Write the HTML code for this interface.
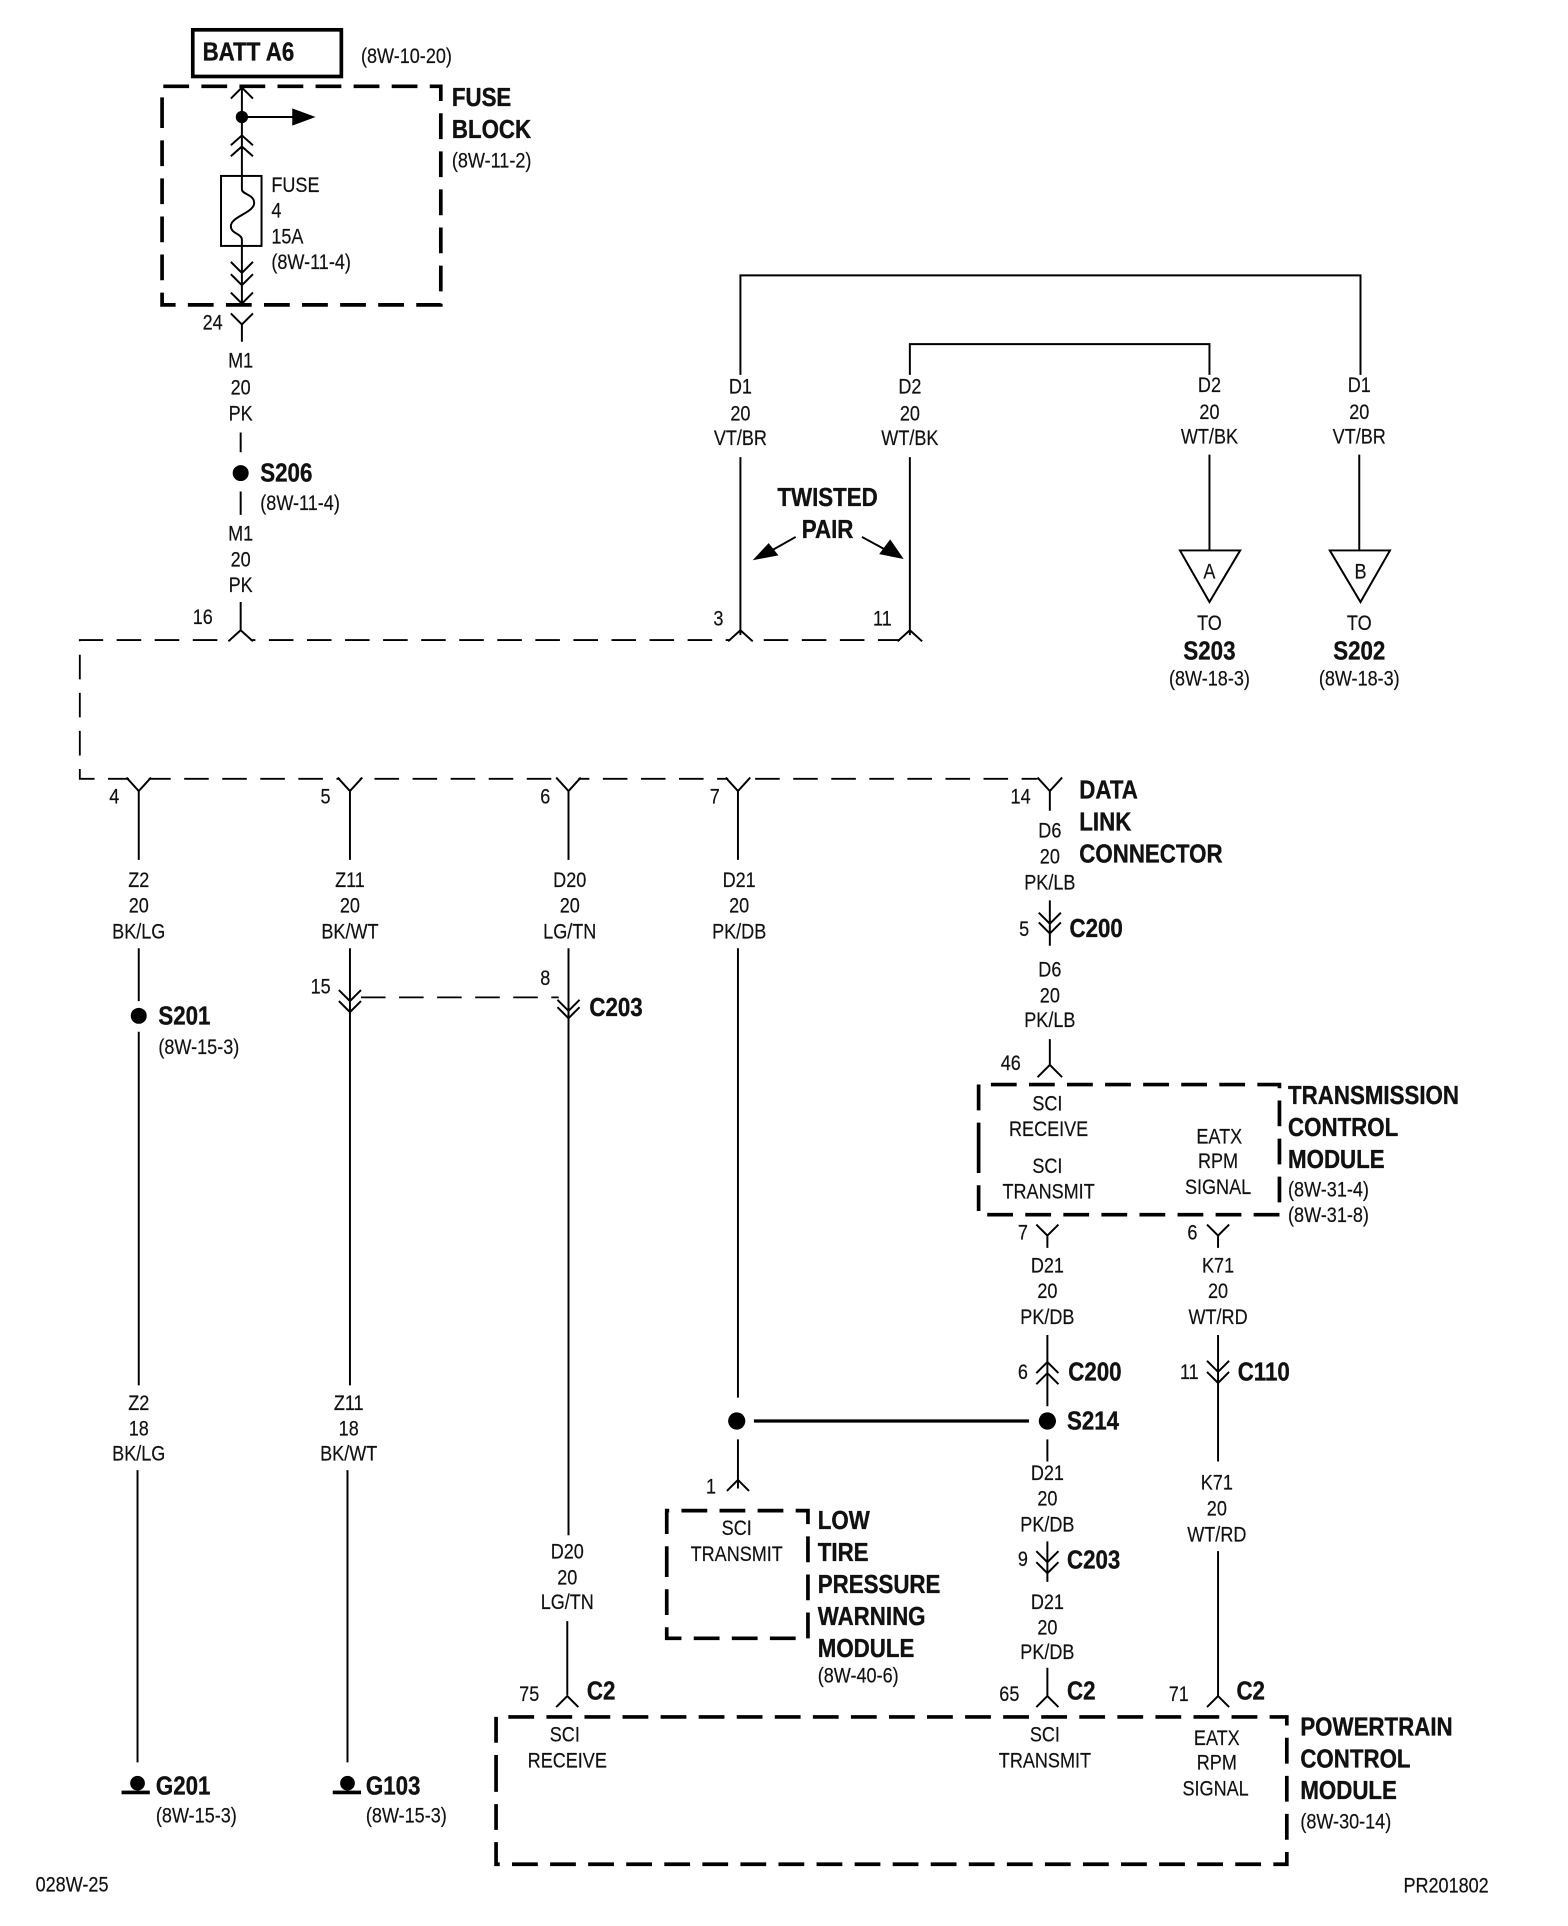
<!DOCTYPE html>
<html><head><meta charset="utf-8"><style>
html,body{margin:0;padding:0;background:#fff;width:1568px;height:1926px;overflow:hidden}
svg{display:block}
text{font-family:"Liberation Sans",sans-serif;fill:#111;font-size:17px;stroke:#111;stroke-width:.15px;transform-box:fill-box;transform-origin:0% 50%;transform:scaleX(.865)}
.c{text-anchor:middle;transform-origin:50% 50%}
.b{font-weight:bold;font-size:21px;stroke-width:.3px}
.w{fill:none;stroke:#000;stroke-width:1.6}
.h{fill:none;stroke:#000;stroke-width:3;stroke-dasharray:21 10}
.d{fill:none;stroke:#000;stroke-width:1.5;stroke-dasharray:20 11}
</style></head><body>
<svg width="1568" height="1926" viewBox="0 0 1277 1568" xmlns="http://www.w3.org/2000/svg">
<!-- header -->
<rect x="157" y="24" width="121" height="38" fill="none" stroke="#000" stroke-width="3"/>
<text class="b" x="165" y="49">BATT A6</text>
<text x="294" y="51">(8W-10-20)</text>
<path class="h" d="M132 100V70H359V248H132V100"/>
<text class="b" x="368" y="86">FUSE</text><text class="b" x="368" y="112">BLOCK</text><text x="368" y="136">(8W-11-2)</text>
<path class="w" d="M197 72V143M188 80L197 71L206 80M188 118L197 110L206 118M188 127L197 119L206 127M197 95H240"/>
<circle cx="197" cy="95" r="5"/><path d="M238 88L257 95L238 102Z"/>
<rect class="w" x="180" y="143" width="33" height="57"/>
<path class="w" d="M197 143V154C197 158 207 158 207 165C207 173 188 176 188 184C188 190 197 190 197 195V247M188 213L197 222L206 213M188 223L197 232L206 223M188 238L197 247L206 238"/>
<text x="221" y="156">FUSE</text><text x="221" y="177">4</text><text x="221" y="198">15A</text><text x="221" y="219">(8W-11-4)</text>
<text x="165" y="268">24</text>
<path class="w" d="M188 255L197 264L206 255M197 264V278"/>
<text class="c" x="196" y="299">M1</text><text class="c" x="196" y="321">20</text><text class="c" x="196" y="342">PK</text>
<circle cx="196" cy="385" r="6.5"/>
<text class="b" x="212" y="392">S206</text><text x="212" y="415">(8W-11-4)</text>
<text class="c" x="196" y="440">M1</text><text class="c" x="196" y="461">20</text><text class="c" x="196" y="482">PK</text>
<text x="157" y="508">16</text>
<!-- dashed harness -->
<path class="d" d="M735 521H65V634H845"/>
<path d="M188 521H204M595 521H611M733 521H751M105 634H121M277 634H293M455 634H471M593 634H609" fill="none" stroke="#fff" stroke-width="3.5"/>
<path class="w" d="M196 352V368M196 400V419M196 490V514M186 522L196 513L206 522"/>
<!-- twisted pair -->
<path class="w" d="M603 305V224H1108V305M741 305V280H985V305M603 372V517M741 372V517M593 522L603 513L613 522M731 522L741 513L751 522M985 370V448M1107 370V448"/>
<text class="c" x="603" y="320">D1</text><text class="c" x="603" y="342">20</text><text class="c" x="603" y="362">VT/BR</text>
<text class="c" x="741" y="320">D2</text><text class="c" x="741" y="342">20</text><text class="c" x="741" y="362">WT/BK</text>
<text class="c" x="985" y="319">D2</text><text class="c" x="985" y="341">20</text><text class="c" x="985" y="361">WT/BK</text>
<text class="c" x="1107" y="319">D1</text><text class="c" x="1107" y="341">20</text><text class="c" x="1107" y="361">VT/BR</text>
<text class="b c" x="674" y="412">TWISTED</text><text class="b c" x="674" y="438">PAIR</text>
<path class="w" d="M648 437L625 450M702 437L724 449" stroke-width="2"/>
<path d="M613 456L626 442L634 452ZM736 455L716 451L725 439Z"/>
<text x="581" y="509">3</text><text x="711" y="509">11</text>
<path class="w" d="M961 448H1010L985 490ZM1083 448H1132L1108 490Z" stroke-width="2"/>
<text class="c" x="985" y="471">A</text><text class="c" x="1108" y="471">B</text>
<text class="c" x="985" y="513">TO</text><text class="b c" x="985" y="537">S203</text><text class="c" x="985" y="558">(8W-18-3)</text>
<text class="c" x="1107" y="513">TO</text><text class="b c" x="1107" y="537">S202</text><text class="c" x="1107" y="558">(8W-18-3)</text>
<!-- branches -->
<path class="w" d="M103 633L113 644L123 633M275 633L285 644L295 633M453 633L463 644L473 633M591 633L601 644L611 633M845 633L855 644L865 633"/>
<path class="w" d="M113 643V700M113 772V815M113 840V1128M112 1197V1435M285 643V700M285 772V1128M283 1197V1435M463 643V700M463 772V1250M462 1320V1380M601 643V700M601 772V1138M855 643V660"/>
<text x="89" y="654">4</text><text x="261" y="654">5</text><text x="440" y="654">6</text><text x="578" y="654">7</text><text x="823" y="654">14</text>
<text class="c" x="113" y="722">Z2</text><text class="c" x="113" y="743">20</text><text class="c" x="113" y="764">BK/LG</text>
<text class="c" x="285" y="722">Z11</text><text class="c" x="285" y="743">20</text><text class="c" x="285" y="764">BK/WT</text>
<text class="c" x="464" y="722">D20</text><text class="c" x="464" y="743">20</text><text class="c" x="464" y="764">LG/TN</text>
<text class="c" x="602" y="722">D21</text><text class="c" x="602" y="743">20</text><text class="c" x="602" y="764">PK/DB</text>
<text class="c" x="113" y="1148">Z2</text><text class="c" x="113" y="1169">18</text><text class="c" x="113" y="1189">BK/LG</text>
<text class="c" x="284" y="1148">Z11</text><text class="c" x="284" y="1169">18</text><text class="c" x="284" y="1189">BK/WT</text>
<text class="c" x="462" y="1269">D20</text><text class="c" x="462" y="1290">20</text><text class="c" x="462" y="1310">LG/TN</text>
<circle cx="113" cy="827" r="6.5"/>
<text class="b" x="129" y="834">S201</text><text x="129" y="858">(8W-15-3)</text>
<circle cx="112" cy="1452" r="6"/><rect x="99" y="1458" width="23" height="3"/>
<text class="b" x="127" y="1461">G201</text><text x="127" y="1484">(8W-15-3)</text>
<circle cx="283" cy="1452" r="6"/><rect x="271" y="1458" width="23" height="3"/>
<text class="b" x="298" y="1461">G103</text><text x="298" y="1484">(8W-15-3)</text>
<text x="253" y="809">15</text><text x="440" y="802">8</text>
<path class="w" d="M276 806L285 815L294 806M276 815L285 824L294 815M454 814L463 823L472 814M454 820L463 829L472 820"/>
<path class="d" d="M294 812H455" stroke-dasharray="16 9"/>
<text class="b" x="480" y="827">C203</text>
<text class="c" x="431" y="1385">75</text><text class="b" x="478" y="1384">C2</text>
<path class="w" d="M453 1390L462 1381L471 1390"/>
<!-- S214 cross -->
<circle cx="600" cy="1157" r="7"/><circle cx="853" cy="1157" r="7"/>
<path d="M614 1157H838" stroke="#000" stroke-width="2.6"/>
<path class="w" d="M601 1172V1212M592 1214L601 1205L610 1214"/>
<text x="575" y="1216">1</text>
<path class="h" d="M543 1280V1230H658V1334H543V1280"/>
<text class="c" x="600" y="1250">SCI</text><text class="c" x="600" y="1271">TRANSMIT</text>
<text class="b" x="666" y="1245">LOW</text><text class="b" x="666" y="1271">TIRE</text><text class="b" x="666" y="1297">PRESSURE</text><text class="b" x="666" y="1323">WARNING</text><text class="b" x="666" y="1349">MODULE</text>
<text x="666" y="1370">(8W-40-6)</text>
<!-- data link -->
<text class="b" x="879" y="650">DATA</text><text class="b" x="879" y="676">LINK</text><text class="b" x="879" y="702">CONNECTOR</text>
<text class="c" x="855" y="682">D6</text><text class="c" x="855" y="703">20</text><text class="c" x="855" y="724">PK/LB</text>
<path class="w" d="M855 733V770M846 743L855 752L864 743M846 751L855 760L864 751"/>
<text x="830" y="762">5</text><text class="b" x="871" y="763">C200</text>
<text class="c" x="855" y="795">D6</text><text class="c" x="855" y="816">20</text><text class="c" x="855" y="836">PK/LB</text>
<path class="w" d="M855 846V868M845 877L855 867L865 877"/>
<text x="815" y="871">46</text>
<path class="h" d="M797 935V883H1042V989H797V935"/>
<text class="c" x="853" y="904">SCI</text><text class="c" x="854" y="925">RECEIVE</text><text class="c" x="853" y="955">SCI</text><text class="c" x="854" y="976">TRANSMIT</text>
<text class="c" x="993" y="931">EATX</text><text class="c" x="992" y="951">RPM</text><text class="c" x="992" y="972">SIGNAL</text>
<text class="b" x="1049" y="899">TRANSMISSION</text><text class="b" x="1049" y="925">CONTROL</text><text class="b" x="1049" y="951">MODULE</text>
<text x="1049" y="974">(8W-31-4)</text><text x="1049" y="995">(8W-31-8)</text>
<path class="w" d="M844 997L853 1006L862 997M853 1006V1016M983 997L992 1006L1001 997M992 1006V1016"/>
<text x="829" y="1009">7</text><text x="967" y="1009">6</text>
<text class="c" x="853" y="1036">D21</text><text class="c" x="853" y="1057">20</text><text class="c" x="853" y="1078">PK/DB</text>
<text class="c" x="992" y="1036">K71</text><text class="c" x="992" y="1057">20</text><text class="c" x="992" y="1078">WT/RD</text>
<path class="w" d="M853 1087V1145M844 1118L853 1109L862 1118M844 1127L853 1118L862 1127M992 1087V1190M983 1108L992 1117L1001 1108M983 1117L992 1126L1001 1117"/>
<text x="829" y="1123">6</text><text class="b" x="870" y="1124">C200</text>
<text x="961" y="1123">11</text><text class="b" x="1008" y="1124">C110</text>
<text class="b" x="869" y="1164">S214</text>
<path class="w" d="M853 1172V1190"/>
<text class="c" x="853" y="1205">D21</text><text class="c" x="853" y="1226">20</text><text class="c" x="853" y="1247">PK/DB</text>
<path class="w" d="M853 1255V1288M844 1263L853 1272L862 1263M844 1272L853 1281L862 1272"/>
<text x="829" y="1275">9</text><text class="b" x="869" y="1277">C203</text>
<text class="c" x="853" y="1310">D21</text><text class="c" x="853" y="1331">20</text><text class="c" x="853" y="1351">PK/DB</text>
<path class="w" d="M853 1358V1382M844 1390L853 1381L862 1390M992 1263V1382M983 1390L992 1381L1001 1390"/>
<text class="c" x="822" y="1385">65</text><text class="b" x="869" y="1384">C2</text>
<text class="c" x="960" y="1385">71</text><text class="b" x="1007" y="1384">C2</text>
<text class="c" x="991" y="1213">K71</text><text class="c" x="991" y="1234">20</text><text class="c" x="991" y="1255">WT/RD</text>
<!-- PCM -->
<path class="h" d="M404 1450V1398H1048V1518H404V1450"/>
<text class="c" x="460" y="1418">SCI</text><text class="c" x="462" y="1439">RECEIVE</text>
<text class="c" x="851" y="1418">SCI</text><text class="c" x="851" y="1439">TRANSMIT</text>
<text class="c" x="991" y="1421">EATX</text><text class="c" x="991" y="1441">RPM</text><text class="c" x="990" y="1462">SIGNAL</text>
<text class="b" x="1059" y="1413">POWERTRAIN</text><text class="b" x="1059" y="1439">CONTROL</text><text class="b" x="1059" y="1465">MODULE</text>
<text x="1059" y="1489">(8W-30-14)</text>
<text x="29" y="1540">028W-25</text><text x="1143" y="1541">PR201802</text>
</svg>
</body></html>
